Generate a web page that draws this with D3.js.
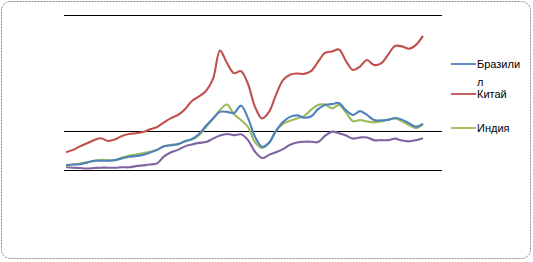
<!DOCTYPE html>
<html>
<head>
<meta charset="utf-8">
<script src="https://cdn.jsdelivr.net/npm/d3@7"></script>
<style>
  body { margin: 0; background: #fff; }
  svg { display: block; font-family: "Liberation Sans", Arial, sans-serif; }
</style>
</head>
<body>
<svg id="mySVG" width="533" height="262"></svg>
<script>
// series values (52 points each)
var brazil = [1.3,1.4,1.5,1.9,2.4,2.4,2.4,2.6,3.0,3.4,3.6,3.9,4.5,5.2,6.1,6.4,6.7,7.4,8.0,9.3,
  11.4,13.3,15.0,15.0,14.7,16.6,13.4,8.6,6.0,7.0,10.1,12.4,13.7,14.1,13.5,13.8,15.7,16.8,17.0,17.3,
  15.4,14.2,15.2,14.2,12.9,12.8,12.9,13.4,13.0,12.1,11.2,11.9];
var china = [4.6,5.2,6.1,6.9,7.7,8.2,7.5,7.9,8.8,9.3,9.5,9.8,10.5,11.1,12.3,13.4,14.2,15.7,17.8,19.0,
  20.4,23.5,30.8,27.6,25.0,25.5,22.2,16.3,13.3,15.0,19.4,23.2,24.6,24.9,24.8,25.5,27.9,30.2,30.6,31.1,
  28.1,25.8,26.7,28.4,27.1,27.5,29.7,32.0,31.9,31.3,32.3,34.6];
var india = [1.0,1.4,1.7,2.0,2.3,2.6,2.5,2.5,3.2,3.7,4.0,4.3,4.7,5.2,6.1,6.5,6.6,7.5,7.9,9.0,
  11.1,13.2,15.5,16.9,14.4,12.9,11.1,7.2,5.7,7.0,10.1,11.9,12.7,13.3,13.9,15.5,16.8,16.9,15.9,16.8,
  14.8,12.6,12.9,12.5,12.3,12.5,13.0,13.3,12.6,11.6,10.8,11.9];
var russia = [0.7,0.6,0.5,0.4,0.5,0.6,0.6,0.6,0.7,0.7,1.0,1.2,1.4,1.7,3.5,4.6,5.2,6.1,6.6,7.0,
  7.2,8.1,8.9,9.3,9.0,9.2,7.7,4.7,3.1,3.9,4.6,5.4,6.5,7.1,7.3,7.3,7.2,8.8,9.9,9.5,
  8.9,8.1,8.4,8.4,7.7,7.7,7.7,8.1,7.6,7.4,7.7,8.2];
var gridValues = [0, 10, 40];
var legendNames = ["Бразили\nл", "Китай", "Индия"];

var series = [
  { name: "Россия", values: russia, color: "#8064a2" },
  { name: "Индия", values: india, color: "#9bbb59" },
  { name: "Бразилия", values: brazil, color: "#4f81bd" },
  { name: "Китай", values: china, color: "#c0504d" }
];

var svg = d3.select('#mySVG');

// outer frame
svg.append('rect')
  .attr('x', 1.5).attr('y', 1.5)
  .attr('width', 529).attr('height', 257)
  .attr('rx', 9).attr('ry', 9)
  .attr('fill', '#fff')
  .attr('stroke', '#8c8c8c')
  .attr('stroke-dasharray', '2,1');

var x = d3.scaleLinear().domain([0, china.length - 1]).range([66, 423]);
var y = d3.scaleLinear().domain([0, 40]).range([170, 15]);

svg.selectAll('line.grid')
  .data(gridValues)
  .enter()
  .append('line')
  .attr('class', 'grid')
  .attr('x1', 64).attr('x2', 442)
  .attr('y1', function(d) { return Math.round(y(d)) + 0.5; })
  .attr('y2', function(d) { return Math.round(y(d)) + 0.5; })
  .attr('stroke', '#000')
  .attr('stroke-width', 1.2);

var line = d3.line()
  .x(function(d, i) { return x(i); })
  .y(function(d) { return y(d); })
  .curve(d3.curveCatmullRom.alpha(0.5));

svg.selectAll('path.series')
  .data(series)
  .enter()
  .append('path')
  .attr('class', 'series')
  .attr('d', function(d) { return line(d.values); })
  .attr('fill', 'none')
  .attr('stroke', function(d) { return d.color; })
  .attr('stroke-width', 2.1)
  .attr('stroke-linejoin', 'round');

// legend
var legendColors = ["#4f81bd", "#c0504d", "#9bbb59"];
var legendY = [64, 94, 128];
var leg = svg.selectAll('g.legend')
  .data(legendNames)
  .enter()
  .append('g')
  .attr('class', 'legend')
  .attr('transform', function(d, i) { return 'translate(451,' + legendY[i] + ')'; });

leg.append('line')
  .attr('x1', 0).attr('x2', 25)
  .attr('y1', 0).attr('y2', 0)
  .attr('stroke', function(d, i) { return legendColors[i]; })
  .attr('stroke-width', 1.8);

leg.append('text')
  .attr('x', 26)
  .attr('y', 4)
  .attr('font-size', 11)
  .attr('fill', '#000')
  .selectAll('tspan')
  .data(function(d) { return d.split('\n'); })
  .enter()
  .append('tspan')
  .attr('x', 26)
  .attr('dy', function(d, i) { return i ? 18 : 0; })
  .text(function(d) { return d; });
</script>
</body>
</html>
